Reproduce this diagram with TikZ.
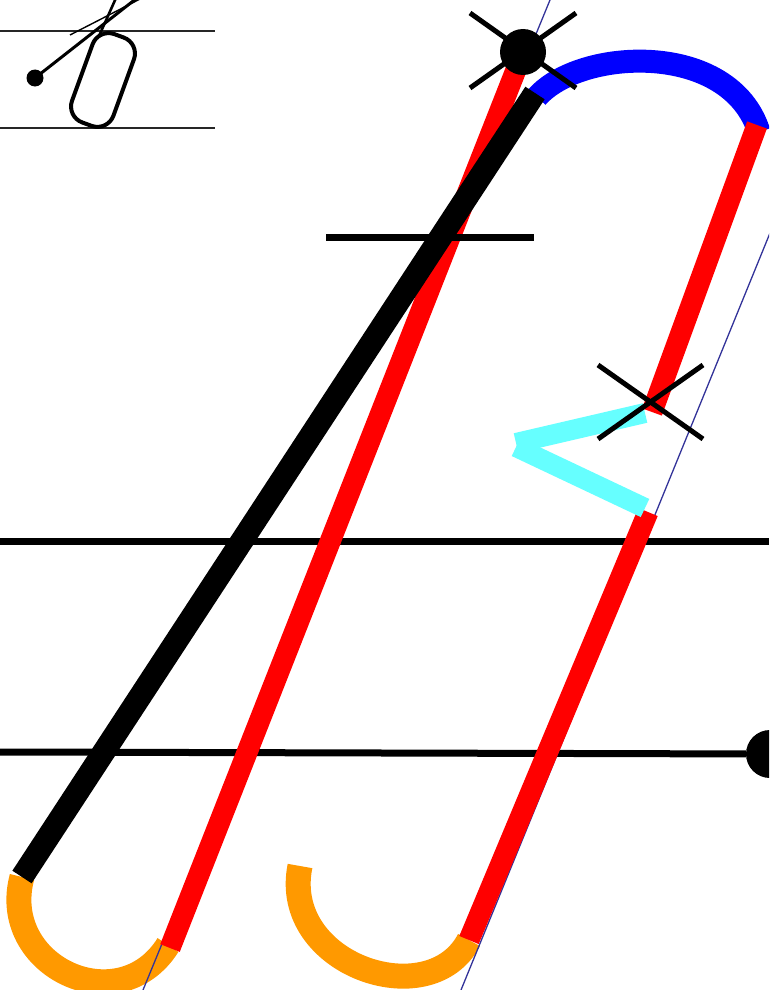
\documentclass[tikz,border=0pt]{standalone}
\usepackage{tikz}
\definecolor{strokeorange}{RGB}{255,153,0}
\definecolor{strokecyan}{RGB}{102,255,255}
\definecolor{guideblue}{RGB}{51,51,153}

\begin{document}
\begin{tikzpicture}[
    x=1pt, y=-1pt,
    rule/.style={line width=7pt},
    thinrule/.style={line width=1.4pt,draw=black!85},
    guide/.style={line width=1.3pt,draw=guideblue},
    redstroke/.style={draw=red,line width=21pt},
    blackstroke/.style={draw=black,line width=23pt},
    bluestroke/.style={draw=blue,line width=23pt},
    orangestroke/.style={draw=strokeorange,line width=25pt},
    cyanstroke/.style={draw=strokecyan,line width=20pt},
    crossline/.style={line width=5pt},
    bigdot/.style={circle,fill=black,inner sep=0pt}
]

\clip (0,0) rectangle (769,990);

% sample letter
\draw[thinrule] (0,31) -- (215,31);
\draw[thinrule] (0,128) -- (215,128);
\draw[line width=4pt,rounded corners=17pt,rotate around={-20:(103,80)}] (81,33) rectangle (125,127);
\draw[line width=3pt] (35,78) -- (137,-2);
\draw[line width=1.4pt] (70,35) -- (142,-2);
\draw[line width=2.6pt] (99,36) -- (116,-2);
\node[bigdot,minimum size=17pt] (sdot) at (35,78) {};

% rules
\coordinate (rmid) at (0,541);
\coordinate (rbase) at (0,752);
\node[bigdot,minimum size=48pt] (endpt) at (770,754) {};
\draw[rule] (rmid) -- (769,541);
\draw[rule] (rbase) -- (endpt);

% stroke points
\coordinate (a1) at (523,52);
\coordinate (a2) at (170,948);
\coordinate (b1) at (757,125);
\coordinate (b2) at (652,412);
\coordinate (c1) at (648,512);
\coordinate (c2) at (469,940);
\coordinate (k1) at (535,93);
\coordinate (k2) at (22,877);
\coordinate (h1) at (326,237);
\coordinate (h2) at (534,237);

\draw[orangestroke] (k2) .. controls (-2,966) and (119,1023) .. (168,945);
\draw[orangestroke] (300,866) .. controls (280,965) and (430,1015) .. (c2);

\draw[guide] (550,0) -- (143,990);
\draw[guide] (770,233) -- (461,990);

\draw[bluestroke] (537,97) .. controls (580,48) and (730,40) .. (759,132);

\draw[redstroke] (a1) -- (a2);
\draw[redstroke] (b1) -- (b2);
\draw[redstroke] (c1) -- (c2);

\draw[rule] (h1) -- (h2);

\draw[blackstroke] (k1) -- (k2);

\draw[cyanstroke] (645,413) -- (516,443);
\draw[cyanstroke] (516,447) -- (645,508);

\node[bigdot,minimum size=46pt] (start) at (a1) {};
\draw[crossline] (470,13) -- (576,88);
\draw[crossline] (470,88) -- (576,13);

\coordinate (turn) at (651,401);
\draw[crossline] (598,365) -- (703,439);
\draw[crossline] (598,439) -- (703,365);

\end{tikzpicture}
\end{document}
